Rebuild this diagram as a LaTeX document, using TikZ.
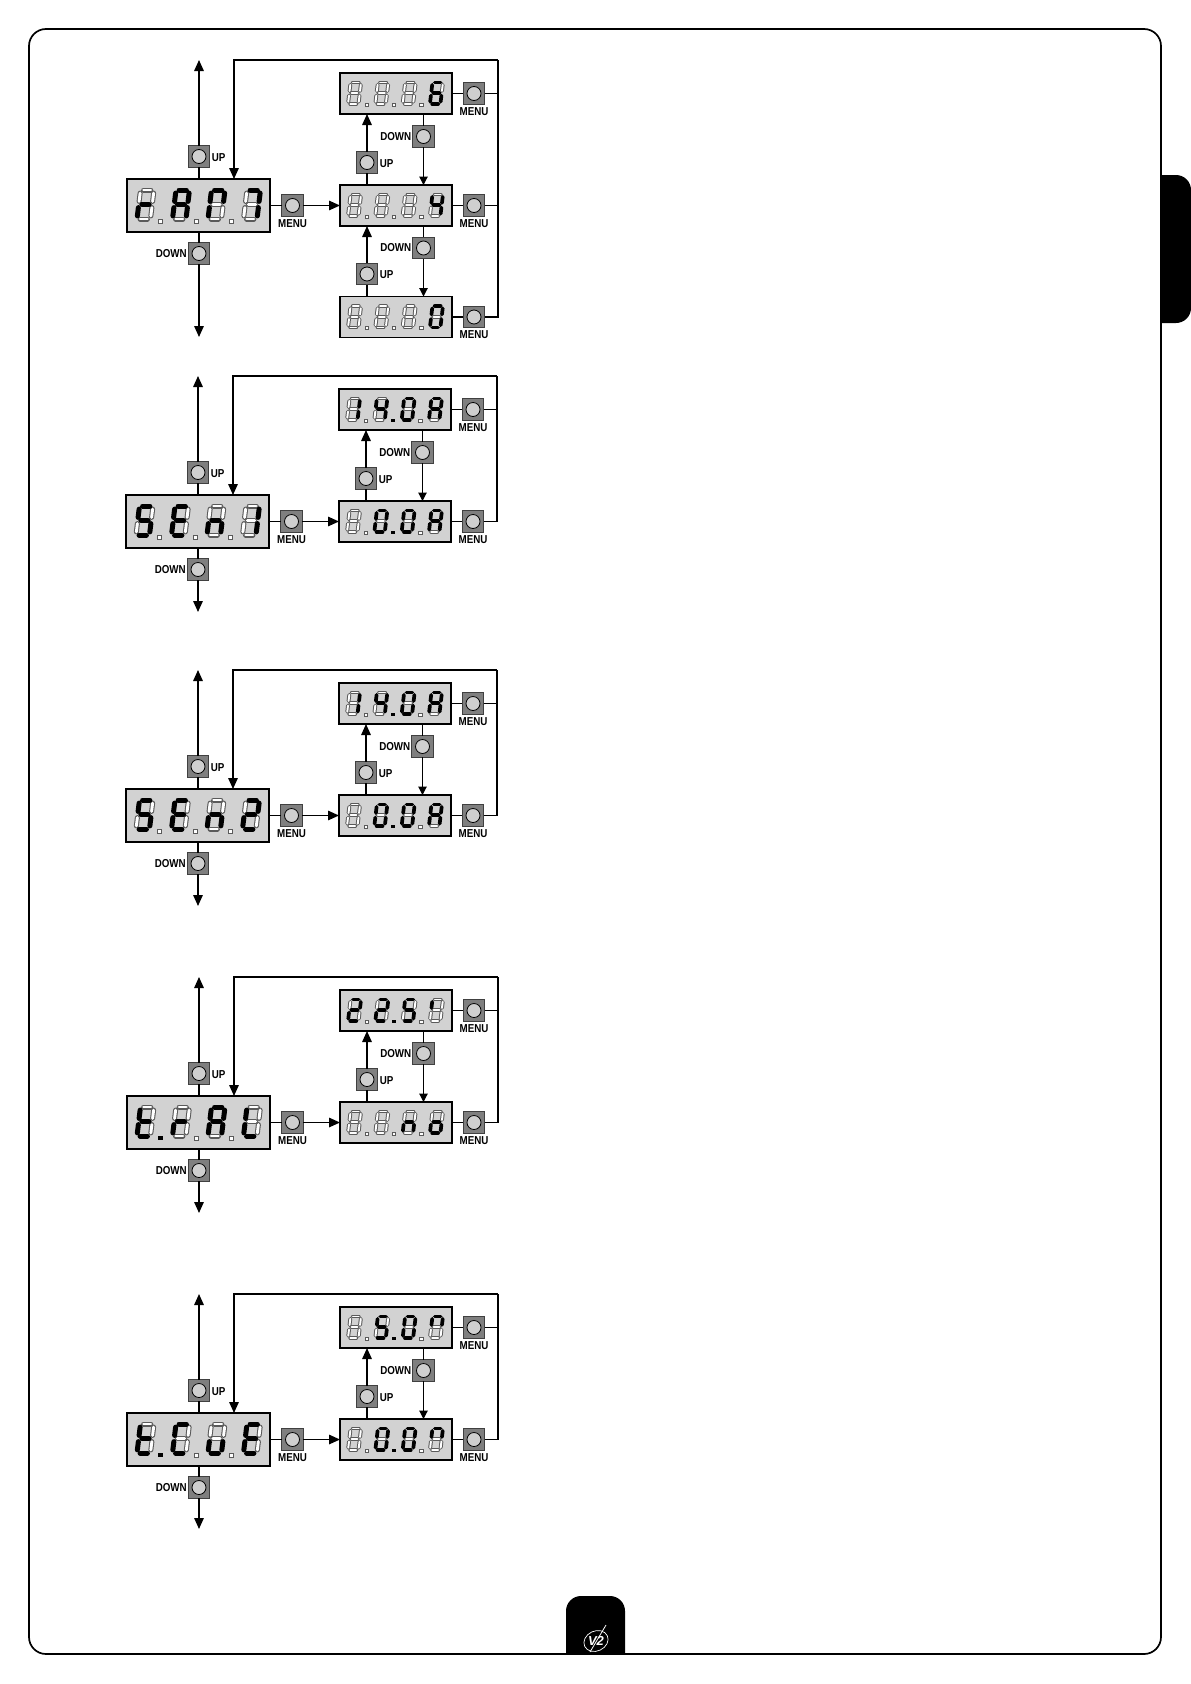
\documentclass[tikz,border=0pt]{standalone}
\usepackage{fontspec}
\setmainfont{Liberation Sans}
\newfontfamily\lblfont[FakeStretch=0.85]{Liberation Sans}
\usetikzlibrary{arrows.meta}
\definecolor{lcdgray}{HTML}{D2D2D2}
\definecolor{btngray}{HTML}{7F7F7F}
\definecolor{capgray}{HTML}{CFCFCF}
\definecolor{segline}{HTML}{5A5A5A}
\tikzset{
  disp/.style={draw=black,fill=lcdgray,line width=1.7pt,rectangle,inner sep=0pt,outer sep=0pt},
  dispbig/.style={disp,minimum width=143pt,minimum height=53pt},
  dispsmall/.style={disp,minimum width=112pt,minimum height=41pt},
  btn/.style={draw=black!75,fill=btngray,line width=0.8pt,rectangle,inner sep=0pt,outer sep=0pt,minimum size=21.5pt,
    path picture={\draw[black,fill=capgray,line width=0.8pt] (path picture bounding box.center) circle (7pt);}},
  lbl/.style={font=\lblfont\fontsize{11.5}{11.5}\selectfont\bfseries,inner sep=0pt,outer sep=0pt},
  wire/.style={draw=black,line width=1.5pt},
  thinwire/.style={draw=black,line width=1.1pt},
  bigtip/.style={-{Triangle[length=11pt,width=9.5pt]}},
  smalltip/.style={-{Triangle[length=8.5pt,width=8.5pt]}},
  segon/.style={draw=black,line cap=round,line width=\segonw pt},
  segouter/.style={draw=segline,line cap=round,line width=\segoutw pt},
  seginner/.style={draw=white,line cap=round,line width=\seginw pt},
}
% digit codes: segments a b c d e f g
\def\dOff{0000000}\def\dZero{1111110}\def\dOne{0110000}\def\dTwo{1101101}\def\dFour{0110011}
\def\dFive{1011011}\def\dSix{1011111}\def\dSeven{1110000}\def\dAay{1110111}\def\dEee{1001111}
\def\dCee{1001110}\def\dEll{0001110}\def\dTee{0001111}\def\dArr{0000101}\def\dEnn{0010101}
\def\dOoo{0011101}\def\dUuu{0011100}\def\dLeftBar{0000010}\def\dOpen{1100110}\def\dTopHalf{1100010}
\newcommand\onesegoff[5]{\ifnum#1=0 \draw[segouter](#2,#3)--(#4,#5);\fi}
\newcommand\onesegwhite[5]{\ifnum#1=0 \draw[seginner](#2,#3)--(#4,#5);\fi}
\newcommand\onesegon[5]{\ifnum#1=1 \draw[segon](#2,#3)--(#4,#5);\fi}
\newcommand\allsegs[8]{% #1 = macro name, #2..#8 = segment states
  #1{#2}{\sI}{-\sH}{\sWI}{-\sH}%
  #1{#3}{\sW}{-\sHI}{\sW}{-\sMU}%
  #1{#4}{\sW}{-\sMD}{\sW}{-\sI}%
  #1{#5}{\sI}{0}{\sWI}{0}%
  #1{#6}{0}{-\sMD}{0}{-\sI}%
  #1{#7}{0}{-\sHI}{0}{-\sMU}%
  #1{#8}{\sI}{-\sM}{\sWI}{-\sM}%
}
\newcommand\lcdglyph[3]{%
  \begin{scope}[shift={(#1,#2)},xslant=0.12]
    \expandafter\allsegs\expandafter\onesegoff#3%
    \expandafter\allsegs\expandafter\onesegwhite#3%
    \expandafter\allsegs\expandafter\onesegon#3%
  \end{scope}%
}
\newcommand\lcddot[3]{%
  \ifnum#3=1 \fill[black] ([shift={(-\dotS,-\dotS)}]#1,#2) rectangle ([shift={(\dotS,\dotS)}]#1,#2);%
  \else \draw[segline,fill=white,line width=0.5pt] ([shift={(-\dotS,-\dotS)}]#1,#2) rectangle ([shift={(\dotS,\dotS)}]#1,#2);\fi}
\newcommand\dotsparse[3]{\lcddot{\dotA}{\dotY}{#1}\lcddot{\dotB}{\dotY}{#2}\lcddot{\dotC}{\dotY}{#3}}
% name, cx, cy, d1..d4, dots
\newcommand\lcdbig[8]{%
  \def\segonw{5}\def\segoutw{5}\def\seginw{2.9}%
  \def\sW{13.5}\def\sH{29}\def\sM{14.5}\def\sI{3.1}\def\sWI{10.4}\def\sHI{25.9}\def\sMU{17.6}\def\sMD{11.4}%
  \node[dispbig] (#1) at (#2,#3) {};
  \begin{scope}[shift={(#2,#3)}]
    \lcdglyph{-61.5}{13.5}{#4}\lcdglyph{-26}{13.5}{#5}\lcdglyph{9.5}{13.5}{#6}\lcdglyph{45}{13.5}{#7}
    \def\dotA{-38}\def\dotB{-2.5}\def\dotC{33}\def\dotY{15.5}\def\dotS{2.1}%
    \expandafter\dotsparse#8
  \end{scope}%
}
\newcommand\lcdsmall[8]{%
  \def\segonw{3.7}\def\segoutw{3.9}\def\seginw{1.9}%
  \def\sW{10.5}\def\sH{21.5}\def\sM{10.75}\def\sI{2.3}\def\sWI{8.2}\def\sHI{19.2}\def\sMU{13.05}\def\sMD{8.45}%
  \node[dispsmall] (#1) at (#2,#3) {};
  \begin{scope}[shift={(#2,#3)}]
    \lcdglyph{-48}{10.5}{#4}\lcdglyph{-20.7}{10.5}{#5}\lcdglyph{6.6}{10.5}{#6}\lcdglyph{33.9}{10.5}{#7}
    \def\dotA{-29.3}\def\dotB{-2}\def\dotC{25.3}\def\dotY{11}\def\dotS{1.6}%
    \expandafter\dotsparse#8
  \end{scope}%
}
% buttons and connectors common to all five panels: prefix, y of the lower arrow tip
\newcommand\wiring[2]{%
  \coordinate (#1tup) at (72,-119);
  \coordinate (#1tdn) at (72,#2);
  \coordinate (#1fbl) at (107,-119);
  \coordinate (#1fbr) at (371,-119);
  \node[btn] (#1bup) at (72,-22.5) {};
  \node[btn] (#1bdn) at (72,74.5) {};
  \node[btn] (#1bmn) at (165.5,26.5) {};
  \node[btn] (#1bua) at (240,-16.5) {};
  \node[btn] (#1bda) at (296.5,-42.5) {};
  \node[btn] (#1mt) at (347,-85.5) {};
  \node[btn] (#1mm) at (347,26.5) {};
  \node[lbl,anchor=west] (#1lup) at ([shift={(2,1)}]#1bup.east) {UP};
  \node[lbl,anchor=east] (#1ldn) at ([shift={(-1.5,0)}]#1bdn.west) {DOWN};
  \node[lbl] (#1lmn) at ([shift={(0,7)}]#1bmn.south) {MENU};
  \node[lbl,anchor=west] (#1lua) at ([shift={(2,1)}]#1bua.east) {UP};
  \node[lbl,anchor=east] (#1lda) at ([shift={(-1.5,0)}]#1bda.west) {DOWN};
  \node[lbl] (#1lmt) at ([shift={(0,7)}]#1mt.south) {MENU};
  \node[lbl] (#1lmm) at ([shift={(0,7)}]#1mm.south) {MENU};
  \draw[wire] (#1main.north -| #1bup) -- (#1bup.south);
  \draw[wire,bigtip] (#1bup.north) -- (#1tup);
  \draw[wire] (#1main.south -| #1bdn) -- (#1bdn.north);
  \draw[wire,bigtip] (#1bdn.south) -- (#1tdn);
  \draw[wire] (#1main.east |- #1bmn) -- (#1bmn.west);
  \draw[wire,bigtip] (#1bmn.east) -- (#1mid.west);
  \draw[wire] (#1mid.north -| #1bua) -- (#1bua.south);
  \draw[wire,bigtip] (#1bua.north) -- (#1top.south -| #1bua);
  \draw[thinwire] (#1top.south -| #1bda) -- (#1bda.north);
  \draw[thinwire,smalltip] (#1bda.south) -- (#1mid.north -| #1bda);
  \draw[thinwire] (#1top.east) -- (#1mt.west);
  \draw[thinwire] (#1mid.east) -- (#1mm.west);
  \draw[thinwire] (#1mt.east) -- (#1mt.east -| #1fbr);
  \draw[wire,bigtip] (#1fbr) -- (#1fbl) -- (#1fbl |- #1main.north);
}
\newcommand\feedback[2]{\draw[wire] (#2.east) -| (#1fbr);}
\begin{document}
\begin{tikzpicture}[x=1pt,y=-1pt]
\useasboundingbox (0,0) rectangle (1191,1684);
\fill[white] (0,0) rectangle (1191,1684);
% page frame and tabs
\begin{scope}
  \clip (1161,100) rectangle (1191,400);
  \fill[black,rounded corners=15] (1120,175) rectangle (1191,323);
\end{scope}
\begin{scope}
  \clip (540,1560) rectangle (650,1654);
  \fill[black,rounded corners=15] (566,1596) rectangle (625,1700);
\end{scope}
\draw[black,line width=1.7pt,rounded corners=17] (29,29) rectangle (1161,1654);
% logo
\draw[white,line width=0.7pt,rotate around={25:(596,1641)}] (596,1641) ellipse (12.5 and 10);
\node[text=white,inner sep=0pt,font=\bfseries\itshape\fontsize{13}{13}\selectfont] (logo) at (596,1641) {V2};
\coordinate (logoa) at (606,1625);
\coordinate (logob) at (590,1652);
\draw[white,line width=0.8pt] (logoa) -- (logob);
% panel 1
\begin{scope}[shift={(127,179)}]
  \lcdbig{aamain}{71.5}{26.5}{\dArr}{\dAay}{\dOpen}{\dSeven}{{0}{0}{0}}
  \lcdsmall{aatop}{269}{-85.5}{\dOff}{\dOff}{\dOff}{\dSix}{{0}{0}{0}}
  \lcdsmall{aamid}{269}{26.5}{\dOff}{\dOff}{\dOff}{\dFour}{{0}{0}{0}}
  \lcdsmall{aabot}{269}{138}{\dOff}{\dOff}{\dOff}{\dZero}{{0}{0}{0}}
  \wiring{aa}{158}
  \node[btn] (aabub) at (240,95) {};
  \node[btn] (aabdb) at (296.5,69) {};
  \node[btn] (aamb) at (347,138) {};
  \node[lbl,anchor=west] (aalub) at ([shift={(2,1)}]aabub.east) {UP};
  \node[lbl,anchor=east] (aaldb) at ([shift={(-1.5,0)}]aabdb.west) {DOWN};
  \node[lbl] (aalmb) at ([shift={(0,7)}]aamb.south) {MENU};
  \draw[wire] (aabot.north -| aabub) -- (aabub.south);
  \draw[wire,bigtip] (aabub.north) -- (aamid.south -| aabub);
  \draw[thinwire] (aamid.south -| aabdb) -- (aabdb.north);
  \draw[thinwire,smalltip] (aabdb.south) -- (aabot.north -| aabdb);
  \draw[thinwire] (aabot.east) -- (aamb.west);
  \draw[thinwire] (aamm.east) -- (aamm.east -| aafbr);
  \feedback{aa}{aamb}
\end{scope}
% panel 2
\begin{scope}[shift={(126,495)}]
  \lcdbig{bbmain}{71.5}{26.5}{\dFive}{\dEee}{\dEnn}{\dOne}{{0}{0}{0}}
  \lcdsmall{bbtop}{269}{-85.5}{\dOne}{\dFour}{\dZero}{\dAay}{{0}{1}{0}}
  \lcdsmall{bbmid}{269}{26.5}{\dOff}{\dZero}{\dZero}{\dAay}{{0}{1}{0}}
  \wiring{bb}{117}
  \feedback{bb}{bbmm}
\end{scope}
% panel 3
\begin{scope}[shift={(126,789)}]
  \lcdbig{ccmain}{71.5}{26.5}{\dFive}{\dEee}{\dEnn}{\dTwo}{{0}{0}{0}}
  \lcdsmall{cctop}{269}{-85.5}{\dOne}{\dFour}{\dZero}{\dAay}{{0}{1}{0}}
  \lcdsmall{ccmid}{269}{26.5}{\dOff}{\dZero}{\dZero}{\dAay}{{0}{1}{0}}
  \wiring{cc}{117}
  \feedback{cc}{ccmm}
\end{scope}
% panel 4
\begin{scope}[shift={(127,1096)}]
  \lcdbig{ddmain}{71.5}{26.5}{\dTee}{\dArr}{\dAay}{\dEll}{{1}{0}{0}}
  \lcdsmall{ddtop}{269}{-85.5}{\dTwo}{\dTwo}{\dFive}{\dLeftBar}{{0}{1}{0}}
  \lcdsmall{ddmid}{269}{26.5}{\dOff}{\dOff}{\dEnn}{\dOoo}{{0}{0}{0}}
  \wiring{dd}{117}
  \feedback{dd}{ddmm}
\end{scope}
% panel 5
\begin{scope}[shift={(127,1413)}]
  \lcdbig{eemain}{71.5}{26.5}{\dTee}{\dCee}{\dUuu}{\dEee}{{1}{0}{0}}
  \lcdsmall{eetop}{269}{-85.5}{\dOff}{\dFive}{\dZero}{\dTopHalf}{{0}{1}{0}}
  \lcdsmall{eemid}{269}{26.5}{\dOff}{\dZero}{\dZero}{\dTopHalf}{{0}{1}{0}}
  \wiring{ee}{116}
  \feedback{ee}{eemm}
\end{scope}
\end{tikzpicture}
\end{document}
